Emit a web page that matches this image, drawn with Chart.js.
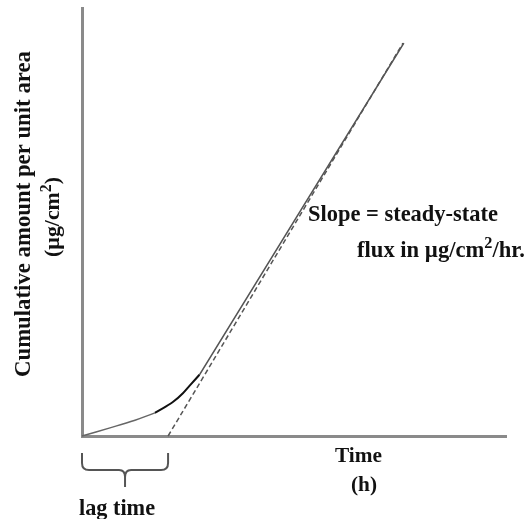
<!DOCTYPE html>
<html>
<head>
<meta charset="utf-8">
<script src="https://cdn.jsdelivr.net/npm/chart.js@4/dist/chart.umd.min.js"></script>
<style>
  html, body { margin: 0; padding: 0; background: #fff; overflow: hidden; }
  #wrap { width: 527px; height: 519px; position: relative; }
</style>
</head>
<body>
<div id="wrap"><canvas id="c" width="527" height="519"></canvas></div>
<script>
// Time (h) against cumulative amount per unit area (µg/cm²)
const earlyTime     = [0, 0.66, 1.25, 1.72];
const earlyAmount   = [0, 0.19, 0.37, 0.54];
const riseTime      = [1.72, 1.77, 2.15, 2.38, 2.55, 2.77];
const riseAmount    = [0.54, 0.57, 0.80, 1.00, 1.19, 1.43];
const steadyTime    = [2.77, 7.59];
const steadyAmount  = [1.43, 9.18];
const lagTime       = 2.03;
const tangentTime   = [lagTime, 7.57];
const tangentAmount = [0, 9.18];

const axisTitleY = ['Cumulative amount per unit area', '(µg/cm²)'];
const axisTitleX = ['Time', '(h)'];
const slopeLabel = ['Slope = steady-state', 'flux in µg/cm²/hr.'];
const lagLabel   = 'lag time';

const pts = (xs, ys) => xs.map((x, i) => ({ x, y: ys[i] }));
const FAMILY = '"Liberation Serif", "Times New Roman", serif';
const SUP = '²';

// split a label into runs, the squared sign becoming a raised "2"
function runs(text) {
  const out = [];
  let buf = '';
  for (const ch of text) {
    if (ch === SUP) {
      if (buf) out.push({ t: buf, sup: false });
      out.push({ t: '2', sup: true });
      buf = '';
    } else buf += ch;
  }
  if (buf) out.push({ t: buf, sup: false });
  return out;
}
function measureRuns(ctx, rs, size) {
  let w = 0;
  for (const r of rs) {
    ctx.font = `bold ${(r.sup ? size * 0.72 : size).toFixed(2)}px ${FAMILY}`;
    w += ctx.measureText(r.t).width;
  }
  return w;
}
// draw a bold label scaled to span the given width
function drawText(ctx, text, x, y, width, align) {
  const rs = runs(text);
  const size = 100 * width / measureRuns(ctx, rs, 100);
  const total = measureRuns(ctx, rs, size);
  let cx = align === 'center' ? x - total / 2 : x;
  ctx.textAlign = 'left';
  ctx.textBaseline = 'alphabetic';
  for (const r of rs) {
    const s = r.sup ? size * 0.72 : size;
    ctx.font = `bold ${s.toFixed(2)}px ${FAMILY}`;
    ctx.fillText(r.t, cx, r.sup ? y - size * 0.38 : y);
    cx += ctx.measureText(r.t).width;
  }
}

const annotations = {
  id: 'annotations',
  afterDraw(chart) {
    const ctx = chart.ctx;
    const xs = chart.scales.x;
    const area = chart.chartArea;
    ctx.save();
    ctx.fillStyle = '#111';

    // vertical axis title, two lines
    ctx.save();
    ctx.translate(30, 214);
    ctx.rotate(-Math.PI / 2);
    drawText(ctx, axisTitleY[0], 0, 0, 326, 'center');
    ctx.restore();
    ctx.save();
    ctx.translate(59, 217);
    ctx.rotate(-Math.PI / 2);
    drawText(ctx, axisTitleY[1], 0, 0, 80, 'center');
    ctx.restore();

    // horizontal axis title
    drawText(ctx, axisTitleX[0], 335, 462, 47, 'left');
    drawText(ctx, axisTitleX[1], 364, 491, 26, 'center');

    // slope note
    drawText(ctx, slopeLabel[0], 308, 221, 190, 'left');
    drawText(ctx, slopeLabel[1], 357, 257, 168, 'left');

    // brace spanning the lag time
    const x0 = xs.getPixelForValue(0);
    const x1 = xs.getPixelForValue(lagTime);
    const xm = (x0 + x1) / 2;
    const top = area.bottom + 17, mid = area.bottom + 34, tip = area.bottom + 51;
    ctx.strokeStyle = '#555';
    ctx.lineWidth = 2;
    ctx.beginPath();
    ctx.moveTo(x0, top);
    ctx.lineTo(x0, mid - 7);
    ctx.quadraticCurveTo(x0, mid, x0 + 7, mid);
    ctx.lineTo(xm - 6, mid);
    ctx.quadraticCurveTo(xm, mid, xm, mid + 7);
    ctx.lineTo(xm, tip);
    ctx.moveTo(xm, mid + 7);
    ctx.quadraticCurveTo(xm, mid, xm + 6, mid);
    ctx.lineTo(x1 - 7, mid);
    ctx.quadraticCurveTo(x1, mid, x1, mid - 7);
    ctx.lineTo(x1, top);
    ctx.stroke();

    drawText(ctx, lagLabel, xm - 8, 515, 76, 'center');
    ctx.restore();
  }
};

new Chart(document.getElementById('c'), {
  type: 'line',
  data: {
    datasets: [
      { data: pts(earlyTime, earlyAmount), borderColor: '#666', borderWidth: 1.5 },
      { data: pts(riseTime, riseAmount), borderColor: '#111', borderWidth: 2, cubicInterpolationMode: 'monotone' },
      { data: pts(steadyTime, steadyAmount), borderColor: '#555', borderWidth: 1.6 },
      { data: pts(tangentTime, tangentAmount), borderColor: '#555', borderWidth: 1.5, borderDash: [5, 3] }
    ]
  },
  options: {
    responsive: false,
    animation: false,
    devicePixelRatio: 1,
    layout: { padding: { top: 8, right: 21, left: 0, bottom: 0 } },
    elements: { point: { radius: 0 }, line: { tension: 0.4, fill: false } },
    datasets: { line: { clip: false } },
    plugins: { legend: { display: false }, tooltip: { enabled: false } },
    scales: {
      x: {
        type: 'linear', min: 0, max: 10,
        grid: { display: false },
        ticks: { display: false },
        border: { display: true, color: '#8a8a8a', width: 3 },
        afterFit: s => { s.height = 83; }
      },
      y: {
        type: 'linear', min: 0, max: 10,
        grid: { display: false },
        ticks: { display: false },
        border: { display: true, color: '#8a8a8a', width: 3 },
        afterFit: s => { s.width = 82; }
      }
    }
  },
  plugins: [annotations]
});
</script>
</body>
</html>
